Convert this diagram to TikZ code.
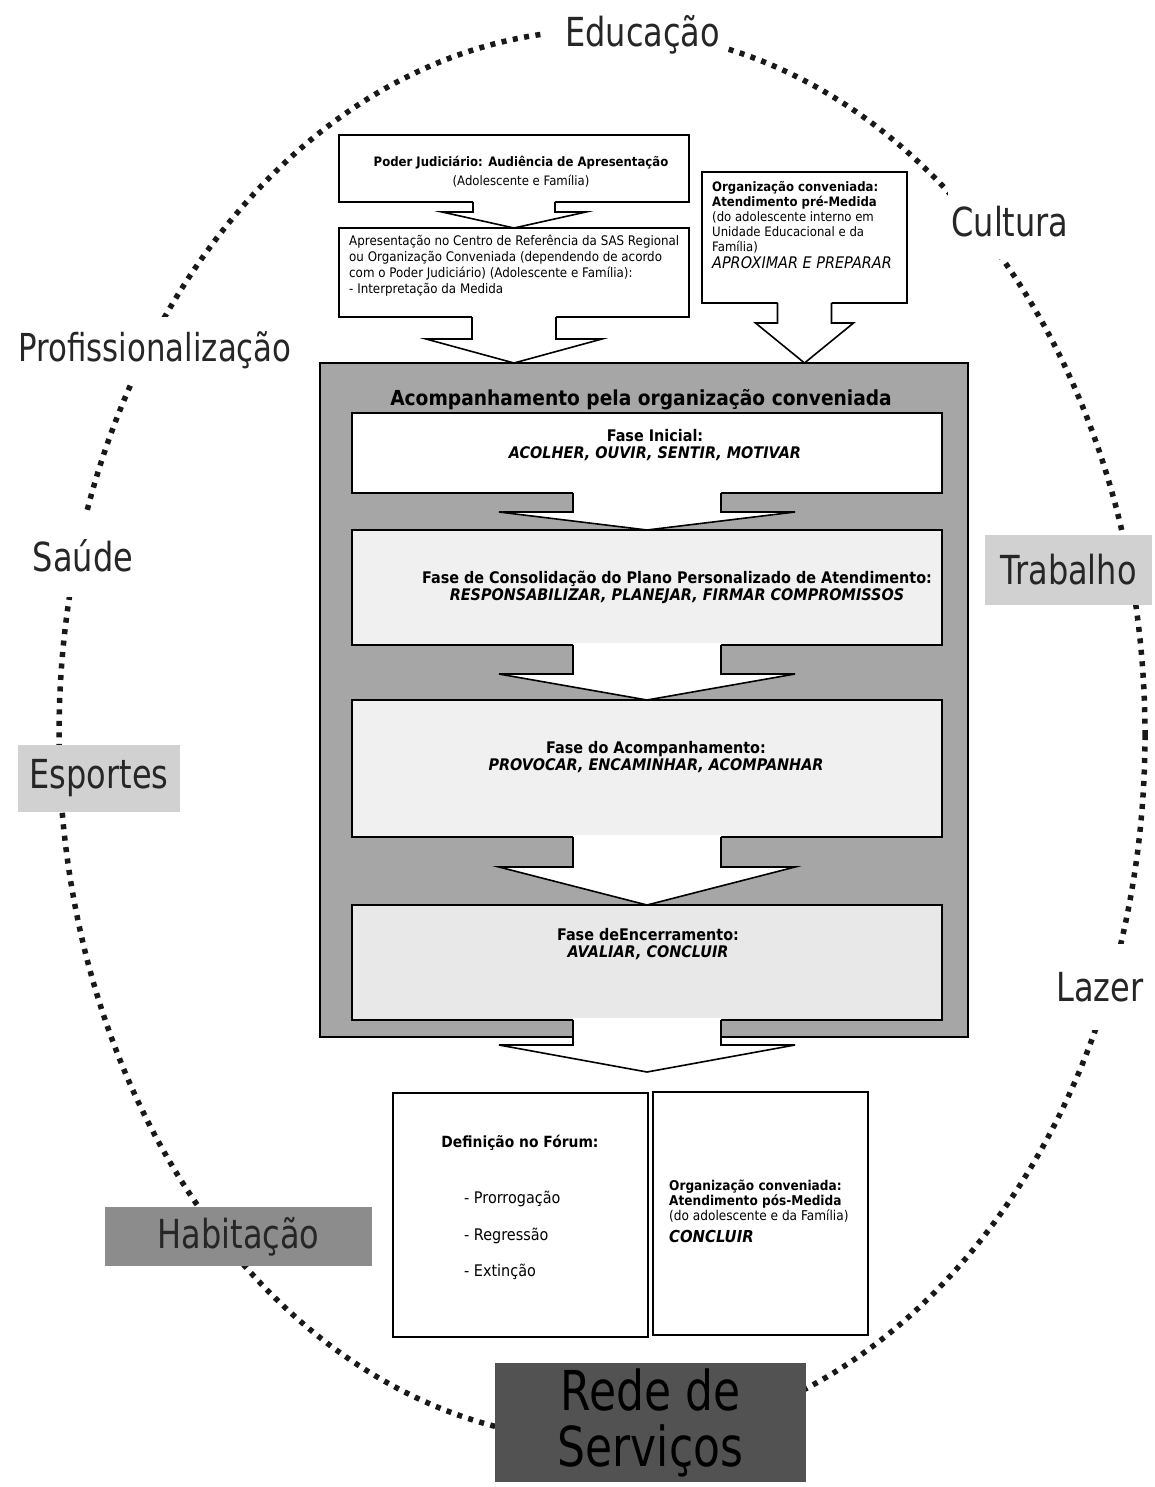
\documentclass[tikz,border=0pt]{standalone}
\usepackage{fontspec}
\setmainfont{DejaVu Sans}[FakeStretch=0.9]
\newfontfamily\rotulofont{DejaVu Sans}[FakeStretch=0.8]
\usetikzlibrary{calc}

% seta em bloco: #1 origem, #2 ponta, #3 meia haste, #4 meia ponta, #5 comprimento da ponta
\newcommand{\setabloco}[5]{%
	\fill[white] let \p1=(#1.south), \p2=(#2) in
		(\x1-#3,\y1+2pt) -- (\x1-#3,\y2+#5) -- (\x1-#4,\y2+#5) -- (\x1,\y2)
		-- (\x1+#4,\y2+#5) -- (\x1+#3,\y2+#5) -- (\x1+#3,\y1+2pt) -- cycle;
	\draw[seta] let \p1=(#1.south), \p2=(#2) in
		(\x1-#3,\y1) -- (\x1-#3,\y2+#5) -- (\x1-#4,\y2+#5) -- (\x1,\y2)
		-- (\x1+#4,\y2+#5) -- (\x1+#3,\y2+#5) -- (\x1+#3,\y1);
}

\begin{document}
\begin{tikzpicture}[x=1pt,y=-1pt,
		caixa/.style={draw, line width=1.6pt, fill=white, inner sep=0pt, outer sep=0pt},
		seta/.style={line width=1.6pt, line join=miter},
		pontilhado/.style={line width=5.5pt, dash pattern=on 5pt off 6.5pt, black!90},
		rotulo/.style={font=\rotulofont\fontsize{40}{46}\selectfont, text=black!85, fill=white},
		rotulocaixa/.style={rotulo, inner sep=0pt},
		texto/.style={inner sep=0pt, font=\fontsize{13.2}{16}\selectfont},
		fase/.style={inner sep=0pt, align=center, font=\bfseries\fontsize{16}{17}\selectfont}]

	\path[use as bounding box, fill=white] (0,0) rectangle (1155,1487);

	% rede de servicos
	\draw[pontilhado] (602,735) ellipse [x radius=543, y radius=705];

	\node[rotulo, text width=172pt, align=right, inner xsep=6pt, inner ysep=12pt] (educacao) at (634,35) {Educação};
	\node[rotulo, inner ysep=22pt] (cultura) at (1010,222) {Cultura};
	\node[rotulo, inner ysep=14pt, font=\rotulofont\fontsize{38.5}{46}\selectfont] (profissionalizacao) at (155,350) {Profissionalização};
	\node[rotulo, inner ysep=25pt] (saude) at (83,556) {Saúde};
	\node[rotulo, inner ysep=28pt] (lazer) at (1100,987) {Lazer};
	\node[rotulocaixa, fill=black!18, minimum width=167, minimum height=70] (trabalho) at (1068.5,570) {Trabalho};
	\node[rotulocaixa, fill=black!18, minimum width=162, minimum height=67] (esportes) at (99,778.5) {Esportes};
	\node[rotulocaixa, fill=black!45, minimum width=267, minimum height=59] (habitacao) at (238.5,1236.5) {Habitação};
	\node[rotulocaixa, fill=black!68, text=black, minimum width=311, minimum height=119, align=center,
		font=\rotulofont\fontsize{55}{56}\selectfont] (rede) at (650.5,1422.5) {Rede de\\Serviços};

	% caixas
	\node[caixa, minimum width=350, minimum height=67] (poder) at (514,168.5) {};
	\node[caixa, minimum width=350, minimum height=89] (apresentacao) at (514,272.5) {};
	\node[caixa, minimum width=205, minimum height=131] (premedida) at (804.5,237.5) {};
	\node[caixa, fill=black!35, minimum width=648, minimum height=674] (acompanhamento) at (644,700) {};
	\node[caixa, minimum width=590, minimum height=80] (inicial) at (647,453) {};
	\node[caixa, fill=black!6, minimum width=590, minimum height=115] (consolidacao) at (647,587.5) {};
	\node[caixa, fill=black!6, minimum width=590, minimum height=137] (fase3) at (647,768.5) {};
	\node[caixa, fill=black!9, minimum width=590, minimum height=115] (encerramento) at (647,962.5) {};
	\node[caixa, minimum width=255, minimum height=244] (forum) at (520.5,1215) {};
	\node[caixa, minimum width=215, minimum height=243] (posmedida) at (760.5,1213.5) {};

	% textos
	\node[texto, align=center, font=\fontsize{13}{19}\selectfont] (poderTxt) at (521,172)
		{\textbf{Poder Judiciário: Audiência de Apresentação}\\(Adolescente e Família)};
	\node[texto, anchor=north west, align=left] (apresentacaoTxt) at (349,235)
		{Apresentação no Centro de Referência da SAS Regional\\ou Organização Conveniada (dependendo de acordo\\com o Poder Judiciário) (Adolescente e Família):\\- Interpretação da Medida};
	\node[texto, anchor=north west, align=left, font=\fontsize{13}{15}\selectfont] (premedidaTxt) at (712,181)
		{\textbf{Organização conveniada:}\\\textbf{Atendimento pré-Medida}\\(do adolescente interno em\\Unidade Educacional e da\\Família)\\[2pt]{\itshape\fontsize{16}{17}\selectfont APROXIMAR E PREPARAR}};

	\node[fase, font=\bfseries\fontsize{20.7}{24}\selectfont] (titulo) at (641,400) {Acompanhamento pela organização conveniada};
	\node[fase] (inicialTxt) at (655,445) {Fase Inicial:\\\textit{ACOLHER, OUVIR, SENTIR, MOTIVAR}};
	\node[fase] (consolidacaoTxt) at (677,587) {Fase de Consolidação do Plano Personalizado de Atendimento:\\\textit{RESPONSABILIZAR, PLANEJAR, FIRMAR COMPROMISSOS}};
	\node[fase] (fase3Txt) at (656,757) {Fase do Acompanhamento:\\\textit{PROVOCAR, ENCAMINHAR, ACOMPANHAR}};
	\node[fase] (encerramentoTxt) at (648,944) {Fase deEncerramento:\\\textit{AVALIAR, CONCLUIR}};

	\node[texto, font=\bfseries\fontsize{15.4}{17}\selectfont] (forumTxt) at (520,1143) {Definição no Fórum:};
	\foreach \opcao/\y in {Prorrogação/1199, Regressão/1236, Extinção/1272}
		\node[texto, anchor=west, font=\fontsize{16}{17}\selectfont] (opcao\y) at (464,\y) {- \opcao};
	\node[texto, anchor=north west, align=left, font=\fontsize{13.5}{15}\selectfont] (posmedidaTxt) at (669,1180)
		{\textbf{Organização conveniada:}\\\textbf{Atendimento pós-Medida}\\(do adolescente e da Família)\\[7pt]{\bfseries\itshape\fontsize{16.5}{17}\selectfont CONCLUIR}};

	% setas
	\setabloco{poder}{apresentacao.north}{41pt}{72pt}{16pt}
	\setabloco{apresentacao}{acompanhamento.north}{42pt}{88pt}{24pt}
	\setabloco{premedida}{acompanhamento.north}{27pt}{49pt}{40pt}
	\setabloco{inicial}{consolidacao.north}{74pt}{148pt}{18pt}
	\setabloco{consolidacao}{fase3.north}{74pt}{148pt}{26pt}
	\setabloco{fase3}{encerramento.north}{74pt}{148pt}{38pt}
	\coordinate (pontafinal) at (648,1072);
	\setabloco{encerramento}{pontafinal}{74pt}{148pt}{27pt}

\end{tikzpicture}
\end{document}
